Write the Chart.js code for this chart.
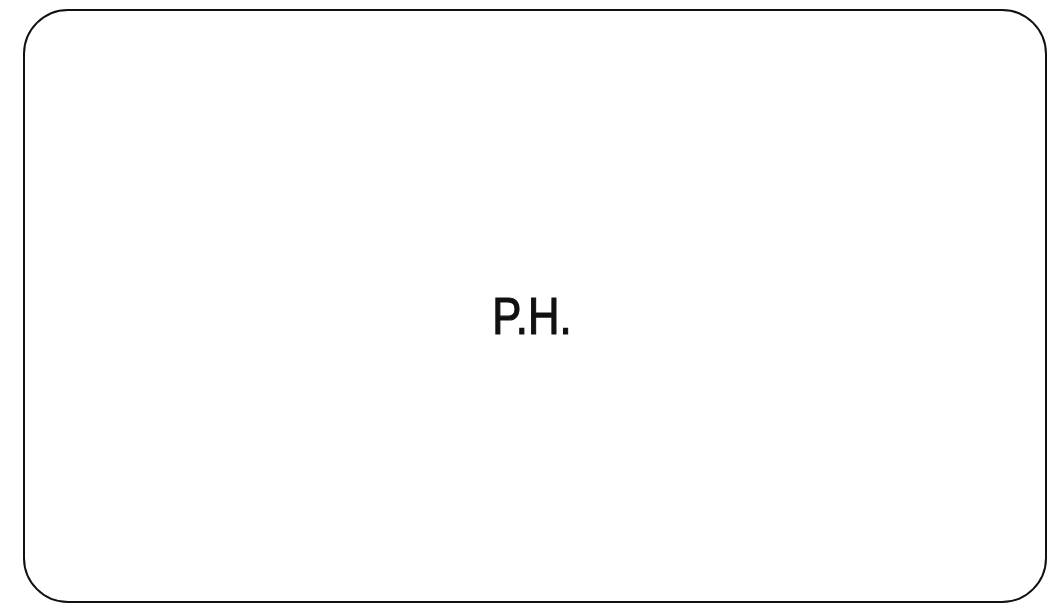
<!DOCTYPE html>
<html>
<head>
<meta charset="utf-8">
<script src="https://cdn.jsdelivr.net/npm/chart.js@4/dist/chart.umd.min.js"></script>
<style>
  html, body { margin: 0; padding: 0; background: #fff; }
  #wrap { width: 1048px; height: 606px; position: relative; }
</style>
</head>
<body>
<div id="wrap"><canvas id="chart"></canvas></div>
<script>
// placeholder chart: no series, only the caption in the middle
const captions = ['P.H.'];
const seriesValues = [];

// draws the rounded frame and the caption
const placeholderPlugin = {
  id: 'placeholder',
  afterDraw(chart) {
    const { ctx, chartArea: a } = chart;
    ctx.save();
    ctx.strokeStyle = '#111';
    ctx.lineWidth = 2;
    ctx.beginPath();
    ctx.roundRect(a.left, a.top, a.right - a.left, a.bottom - a.top, 44);
    ctx.stroke();

    const cx = (a.left + a.right) / 2 - 3;
    const baseY = (a.top + a.bottom) / 2 + 28;
    ctx.translate(cx, baseY);
    ctx.scale(0.84, 1);
    ctx.fillStyle = '#111';
    ctx.strokeStyle = '#111';
    ctx.lineWidth = 1.2;
    ctx.font = '52px "Liberation Sans", Arial, sans-serif';
    ctx.textAlign = 'center';
    ctx.textBaseline = 'alphabetic';
    ctx.fillText(captions[0], 0, 0);
    ctx.strokeText(captions[0], 0, 0);
    ctx.restore();
  }
};

new Chart(document.getElementById('chart'), {
  type: 'scatter',
  data: {
    datasets: [{ label: captions[0], data: seriesValues }]
  },
  options: {
    responsive: true,
    maintainAspectRatio: false,
    animation: false,
    layout: { padding: { left: 24, top: 10, right: 2, bottom: 4 } },
    scales: {
      x: { display: false },
      y: { display: false }
    },
    plugins: {
      legend: { display: false },
      tooltip: { enabled: false }
    }
  },
  plugins: [placeholderPlugin]
});
</script>
</body>
</html>
